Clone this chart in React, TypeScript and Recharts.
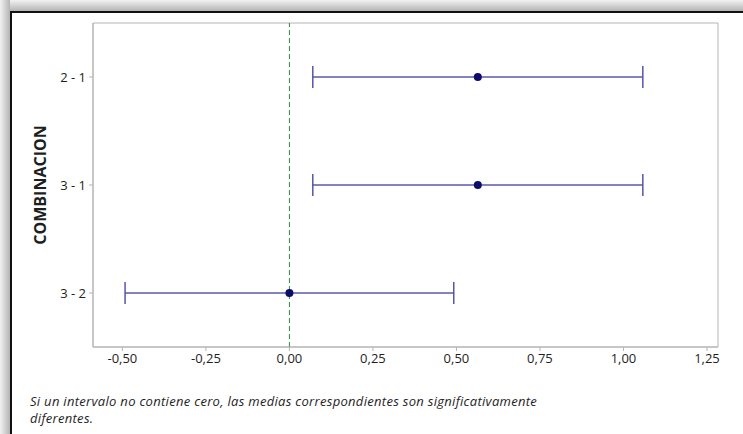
import React from 'react';
import {
  ComposedChart,
  Bar,
  Line,
  XAxis,
  YAxis,
  ReferenceLine,
  ReferenceArea,
} from 'recharts';

// Pairwise comparisons (difference of means) with confidence intervals
const combinations = ['2 - 1', '3 - 1', '3 - 2'];
const means = [0.564, 0.564, 0.0];
const lowers = [0.07, 0.07, -0.492];
const uppers = [1.058, 1.058, 0.492];

const xTicks = [-0.5, -0.25, 0, 0.25, 0.5, 0.75, 1.0, 1.25];
const xDomain = [-0.588, 1.283];

const data = combinations.map((name, i) => ({
  name,
  mean: means[i],
  range: [lowers[i], uppers[i]],
}));

const INTERVAL_COLOR = '#5a5aa8';
const CAP_COLOR = '#4a4aa6';
const DOT_COLOR = '#0c0c6c';
const AXIS_COLOR = '#b4b4b4';
const TEXT_COLOR = '#1e1e1e';
const FONT = '"Open Sans", "Noto Sans", sans-serif';

const fmt = (v: number) => v.toFixed(2).replace('.', ',');

// Horizontal interval with end caps, drawn from the ranged bar geometry
const IntervalShape = (props: any) => {
  const { x, y, width, height } = props;
  const cy = y + height / 2;
  return (
    <g>
      <line x1={x} y1={cy} x2={x + width} y2={cy} stroke={INTERVAL_COLOR} strokeWidth={1.4} />
      <line x1={x} y1={y} x2={x} y2={y + height} stroke={CAP_COLOR} strokeWidth={1.4} />
      <line x1={x + width} y1={y} x2={x + width} y2={y + height} stroke={CAP_COLOR} strokeWidth={1.4} />
    </g>
  );
};

export default function App() {
  return (
    <div
      style={{
        position: 'absolute',
        left: 0,
        top: 0,
        width: 743,
        height: 434,
        overflow: 'hidden',
        background: '#ffffff',
      }}
    >
      {/* window shadow and frame */}
      <div
        style={{
          position: 'absolute',
          left: 0,
          top: 0,
          width: 743,
          height: 11,
          background: 'linear-gradient(to bottom, #f2f2f2, #b4b4b4)',
        }}
      />
      <div
        style={{
          position: 'absolute',
          left: 0,
          top: 0,
          width: 10,
          height: 434,
          background: 'linear-gradient(to right, #f2f2f2, #b4b4b4)',
        }}
      />
      <div style={{ position: 'absolute', left: 10, top: 11, width: 733, height: 2, background: '#111' }} />
      <div style={{ position: 'absolute', left: 10, top: 11, width: 2, height: 423, background: '#111' }} />

      <div style={{ position: 'absolute', left: 0, top: 0 }}>
        <ComposedChart
          width={743}
          height={434}
          data={data}
          layout="vertical"
          margin={{ top: 23, right: 25, bottom: 57, left: 0 }}
        >
          <XAxis
            type="number"
            domain={xDomain}
            ticks={xTicks}
            allowDataOverflow
            tickFormatter={fmt}
            height={30}
            stroke={AXIS_COLOR}
            tickSize={4}
            tickMargin={3}
            tick={{ fill: TEXT_COLOR, fontSize: 13, fontFamily: FONT }}
          />
          <YAxis
            type="category"
            dataKey="name"
            width={93}
            stroke={AXIS_COLOR}
            tickSize={4}
            tickMargin={3}
            tick={{ fill: TEXT_COLOR, fontSize: 13, fontFamily: FONT }}
          />
          <ReferenceArea
            x1={xDomain[0]}
            x2={xDomain[1]}
            fill="none"
            stroke={AXIS_COLOR}
            strokeWidth={1}
            ifOverflow="visible"
          />
          <ReferenceLine x={0} stroke="#2f8a3f" strokeDasharray="5 3" strokeWidth={1} />
          <Bar dataKey="range" barSize={22} shape={<IntervalShape />} isAnimationActive={false} />
          <Line
            dataKey="mean"
            stroke="none"
            dot={{ r: 4, fill: DOT_COLOR, stroke: 'none' }}
            activeDot={false}
            isAnimationActive={false}
          />
        </ComposedChart>
      </div>

      {/* axis title */}
      <svg style={{ position: 'absolute', left: 0, top: 0 }} width={80} height={434}>
        <text
          x={40}
          y={185}
          transform="rotate(-90 40 185)"
          textAnchor="middle"
          dominantBaseline="central"
          fontFamily={FONT}
          fontWeight={700}
          fontSize={16}
          fill={TEXT_COLOR}
        >
          COMBINACION
        </text>
      </svg>

      {/* note below the chart */}
      <div
        style={{
          position: 'absolute',
          left: 30,
          top: 393,
          fontFamily: FONT,
          fontStyle: 'italic',
          fontSize: 13,
          letterSpacing: 0.3,
          lineHeight: '17px',
          color: TEXT_COLOR,
          whiteSpace: 'nowrap',
        }}
      >
        Si un intervalo no contiene cero, las medias correspondientes son significativamente
        <br />
        diferentes.
      </div>
    </div>
  );
}
